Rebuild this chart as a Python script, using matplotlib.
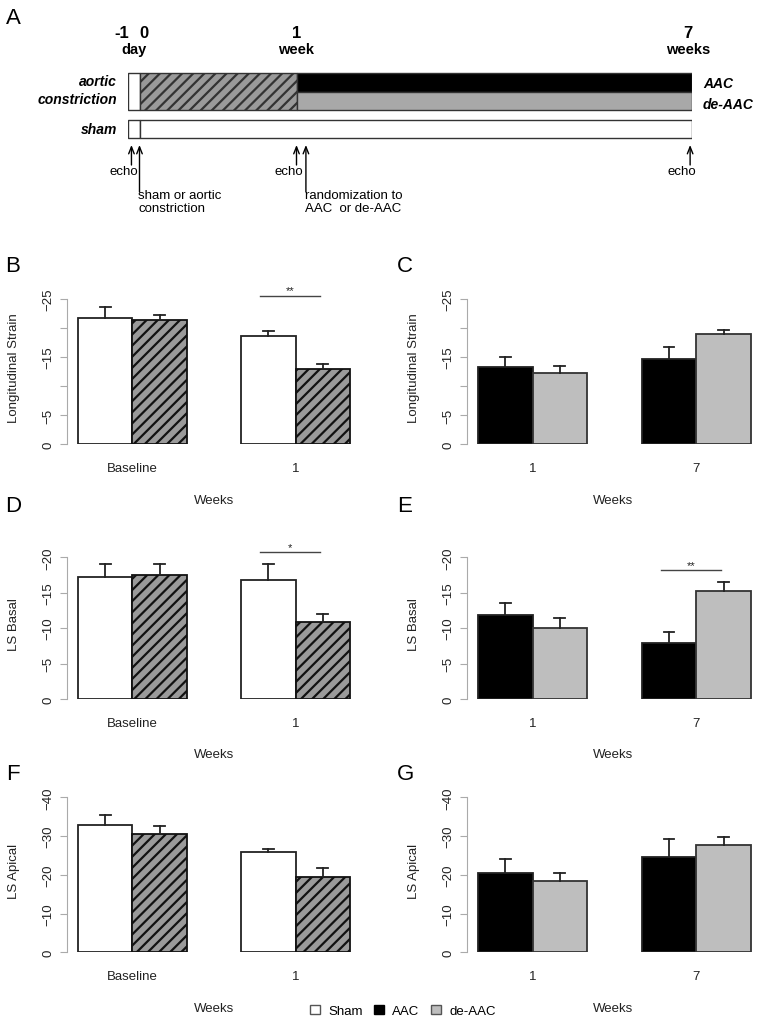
import numpy as np
import matplotlib
matplotlib.use("Agg")
import matplotlib.pyplot as plt
from matplotlib import font_manager as fm
from matplotlib.patches import Patch
from matplotlib.transforms import offset_copy

plt.rcParams["font.family"] = ["Liberation Sans", "DejaVu Sans"]
plt.rcParams["hatch.linewidth"] = 1.6

# ---- data -------------------------------------------------------------
# timeline (days)
tl_days = [-1, 0, 7, 49]
tl_numbers = ["-1", "0", "1", "7"]
tl_units_txt = ["day", "week", "weeks"]
tl_units_at = [-0.5, 7, 49]
echo_days = [-0.7, 7, 48.8]
event_days = [0, 8]
event_txt = ["sham or aortic\nconstriction", "randomization to\nAAC  or de-AAC"]

groups_left = ["Baseline", "1"]
groups_right = ["1", "7"]

# B  longitudinal strain, sham vs aortic constriction
ls_sham = [-21.7, -18.7]
ls_sham_err = [1.9, 0.8]
ls_ac = [-21.4, -12.9]
ls_ac_err = [0.9, 0.9]
# C  longitudinal strain, AAC vs de-AAC
ls_aac = [-13.3, -14.7]
ls_aac_err = [1.7, 2.0]
ls_deaac = [-12.2, -19.0]
ls_deaac_err = [1.3, 0.7]
# D  LS basal
basal_sham = [-17.2, -16.8]
basal_sham_err = [1.8, 2.3]
basal_ac = [-17.5, -10.9]
basal_ac_err = [1.5, 1.1]
# E
basal_aac = [-11.8, -7.9]
basal_aac_err = [1.7, 1.5]
basal_deaac = [-10.0, -15.2]
basal_deaac_err = [1.4, 1.3]
# F  LS apical
apical_sham = [-32.9, -25.8]
apical_sham_err = [2.5, 0.9]
apical_ac = [-30.5, -19.5]
apical_ac_err = [2.1, 2.2]
# G
apical_aac = [-20.4, -24.6]
apical_aac_err = [3.7, 4.7]
apical_deaac = [-18.4, -27.6]
apical_deaac_err = [2.1, 2.2]

# ---- figure -------------------------------------------------------------
W, H = 759, 1020
fig = plt.figure(figsize=(W / 100, H / 100), dpi=100)

names = {f.name for f in fm.fontManager.ttflist}
narrow = ["Liberation Sans Narrow", "Liberation Sans"] if "Liberation Sans Narrow" in names else ["Liberation Sans"]


def px_axes(l, r, t, b):
    return fig.add_axes([l / W, 1 - b / H, (r - l) / W, (b - t) / H])


# ---- A: timeline ------------------------------------------------------
tl = px_axes(128, 692, 0, 250)
tl_px = [0, 11.5, 168.5, 564]
tl.set_xscale("function", functions=(lambda d: np.interp(d, tl_days, tl_px),
                                     lambda u: np.interp(u, tl_px, tl_days)))
tl.set_xlim(-1, 49)
tl.set_ylim(250, 0)
tl.axis("off")

ec = "#333333"
tl.barh(92.5, 1, left=-1, height=37, color="white", edgecolor=ec, lw=1)
tl.barh(92.5, 7, left=0, height=37, facecolor="#9a9a9a", edgecolor=ec, hatch="///", lw=1)
tl.barh(83.25, 42, left=7, height=18.5, color="black", edgecolor=ec, lw=1)
tl.barh(101.75, 42, left=7, height=18.5, color="#a8a8a8", edgecolor=ec, lw=1)
tl.barh(130, 1, left=-1, height=18, color="white", edgecolor=ec, lw=1)
tl.barh(130, 49, left=0, height=18, color="white", edgecolor=ec, lw=1)


def off(dx, dy=0):
    return offset_copy(tl.transData, fig=fig, x=dx, y=dy, units="dots")


num_dx = {-1: -6, 0: 4, 7: 0, 49: -4}
for d, s in zip(tl_days, tl_numbers):
    tl.text(d, 33, s, transform=off(num_dx[d]), ha="center", va="center",
            fontsize=12, fontweight="bold", family=narrow)
for d, s in zip(tl_units_at, tl_units_txt):
    dx = -4 if d == 49 else 0
    tl.text(d, 50, s, transform=off(dx), ha="center", va="center",
            fontsize=10.5, fontweight="bold", family=narrow)

tl.text(-1, 82.5, "aortic", transform=off(-11), ha="right", va="center",
        fontsize=10, fontweight="bold", fontstyle="italic", family=narrow)
tl.text(-1, 100.5, "constriction", transform=off(-11), ha="right", va="center",
        fontsize=10, fontweight="bold", fontstyle="italic", family=narrow)
tl.text(-1, 130, "sham", transform=off(-11), ha="right", va="center",
        fontsize=10, fontweight="bold", fontstyle="italic", family=narrow)
tl.text(49, 84, "AAC", transform=off(11), ha="left", va="center",
        fontsize=10, fontweight="bold", fontstyle="italic", family=narrow)
tl.text(49, 105, "de-AAC", transform=off(11), ha="left", va="center",
        fontsize=10, fontweight="bold", fontstyle="italic", family=narrow)

arr = dict(arrowstyle="->,head_length=0.5,head_width=0.2", lw=1, color="black",
           shrinkA=0, shrinkB=0)
for d in echo_days:
    tl.annotate("", xy=(d, 146), xytext=(d, 166), arrowprops=arr)
    tl.text(d, 172, "echo", transform=off(-8), ha="center", va="center",
            fontsize=9.5, family=narrow)
for d, s in zip(event_days, event_txt):
    tl.annotate("", xy=(d, 146), xytext=(d, 193), arrowprops=arr)
    tl.text(d, 190, s, transform=off(-1), ha="left", va="top",
            fontsize=9.5, family=narrow, linespacing=1.15)


# ---- bar panels ------------------------------------------------------
def bar_panel(l, r, t, b, xmax, ytop, ticks, hide, groups, v1, e1, v2, e2,
              right, ylabel, sig=None):
    ax = px_axes(l, r, t, b)
    if right:
        s1 = dict(color="black", edgecolor="#222222")
        s2 = dict(color="#bebebe", edgecolor="#333333")
    else:
        s1 = dict(color="white", edgecolor="#222222")
        s2 = dict(facecolor="#9a9a9a", edgecolor="#111111", hatch="///")
    x1 = np.array([1, 4])
    x2 = x1 + 1
    ax.bar(x1, v1, width=1, align="edge", lw=1.3, **s1)
    ax.bar(x2, v2, width=1, align="edge", lw=1.3, **s2)
    for xs, vs, es in ((x1, v1, e1), (x2, v2, e2)):
        for x, v, e in zip(xs, vs, es):
            xc = x + 0.5
            ax.plot([xc, xc], [v, v - e], color="#222222", lw=1.3, zorder=3,
                    clip_on=False)
            ax.plot([xc - 0.1, xc + 0.1], [v - e, v - e], color="#222222",
                    lw=1.3, zorder=3, clip_on=False)
    if sig is not None:
        lev, stars, xa, xb = sig
        ax.plot([xa, xb], [lev, lev], color="#444444", lw=1, clip_on=False)
        ax.text((xa + xb) / 2, lev, stars, ha="center", va="bottom",
                fontsize=8, color="#222222")
    ax.set_xlim(0.8, xmax)
    ax.set_ylim(0, ytop)
    for s in ["top", "right", "bottom"]:
        ax.spines[s].set_visible(False)
    ax.spines["left"].set_bounds(ytop, 0)
    ax.spines["left"].set_color("#aaaaaa")
    ax.set_yticks(ticks)
    ax.set_yticklabels(["" if tk in hide else f"{tk:g}".replace("-", "\u2212")
                        for tk in ticks])
    ax.tick_params(axis="y", length=5, color="#aaaaaa", labelsize=9.5,
                   labelcolor="#222222", labelrotation=90, pad=4)
    for lab in ax.get_yticklabels():
        lab.set_va("center")
    ax.set_xticks(x2)
    ax.set_xticklabels(groups)
    ax.tick_params(axis="x", length=0, pad=13, labelsize=9.5, labelcolor="#222222")
    ax.set_xlabel("Weeks", fontsize=9.5, color="#222222", labelpad=14)
    ax.text(-53 / (r - l), 0.53, ylabel, transform=ax.transAxes, rotation=90,
            ha="center", va="center", fontsize=9.5, color="#222222")
    ax.patch.set_visible(False)
    return ax


lx = (67, 361, 6.2)
rx = (467, 759, 0.8 + 292 / 54.6)

bar_panel(lx[0], lx[1], 300, 445, lx[2], -25, [0, -5, -10, -15, -20, -25],
          [-10, -20], groups_left, ls_sham, ls_sham_err, ls_ac, ls_ac_err,
          False, "Longitudinal Strain", sig=(-25.6, "**", 4.35, 5.45))
bar_panel(rx[0], rx[1], 300, 445, rx[2], -25, [0, -5, -10, -15, -20, -25],
          [-10, -20], groups_right, ls_aac, ls_aac_err, ls_deaac, ls_deaac_err,
          True, "Longitudinal Strain")
bar_panel(lx[0], lx[1], 558.3, 700, lx[2], -20, [0, -5, -10, -15, -20], [],
          groups_left, basal_sham, basal_sham_err, basal_ac, basal_ac_err,
          False, "LS Basal", sig=(-20.7, "*", 4.35, 5.45))
bar_panel(rx[0], rx[1], 558.3, 700, rx[2], -20, [0, -5, -10, -15, -20], [],
          groups_right, basal_aac, basal_aac_err, basal_deaac, basal_deaac_err,
          True, "LS Basal", sig=(-18.2, "**", 4.35, 5.45))
bar_panel(lx[0], lx[1], 798.3, 953.3, lx[2], -40, [0, -10, -20, -30, -40], [],
          groups_left, apical_sham, apical_sham_err, apical_ac, apical_ac_err,
          False, "LS Apical")
bar_panel(rx[0], rx[1], 798.3, 953.3, rx[2], -40, [0, -10, -20, -30, -40], [],
          groups_right, apical_aac, apical_aac_err, apical_deaac, apical_deaac_err,
          True, "LS Apical")

# panel letters
for s, x, y in [("A", 13, 18), ("B", 13, 267), ("C", 405, 267), ("D", 13, 507),
                ("E", 405, 507), ("F", 13, 775), ("G", 405, 775)]:
    fig.text(x / W, 1 - y / H, s, ha="center", va="center", fontsize=16)

handles = [Patch(facecolor="white", edgecolor="#555555"),
           Patch(facecolor="black", edgecolor="black"),
           Patch(facecolor="#bebebe", edgecolor="#555555")]
fig.legend(handles, ["Sham", "AAC", "de-AAC"], ncol=3, loc="center",
           bbox_to_anchor=(403 / W, 1 - 1012 / H), frameon=False,
           handlelength=0.75, handleheight=0.75, handletextpad=0.6,
           columnspacing=0.9, fontsize=9.5)

fig.savefig("out.png", dpi=100)
